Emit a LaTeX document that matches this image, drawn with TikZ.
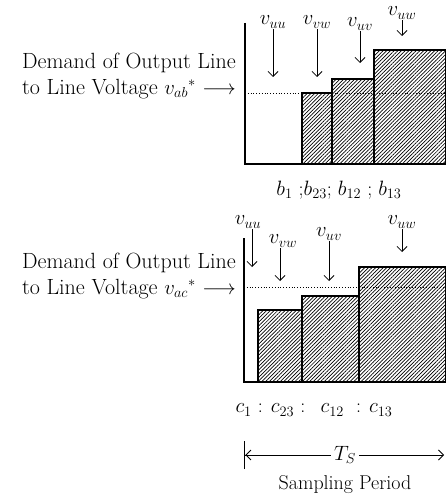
\documentclass[tikz,border=0pt]{standalone}
\usetikzlibrary{arrows.meta,patterns.meta}

\begin{document}
\begin{tikzpicture}[
  x=1pt, y=-1pt,
  >={Straight Barb[length=5pt,width=10pt]},
  demand/.style={font=\fontsize{22}{26}\selectfont, align=right, inner sep=0pt},
  vlab/.style={font=\fontsize{20}{24}\selectfont, inner sep=1pt},
  idx/.style={font=\fontsize{20}{24}\selectfont, inner sep=0pt},
  bar/.style={draw, line width=1.5pt,
              pattern={Lines[angle=45, distance=2.6pt, line width=0.7pt]}},
  axis/.style={line width=1.6pt},
  dem/.style={dotted, line width=0.8pt},
  pick/.style={->, line width=0.8pt}
]
\useasboundingbox (0,0) rectangle (445,500);

% ---------- panel atas: v_ab* ----------
\node[demand, anchor=east] (dab) at (236,76)
      {Demand of Output Line\\ to Line Voltage $v_{ab}{}^{*}$ $\longrightarrow$};

\draw[bar] (302,164) rectangle (332,93);
\draw[bar] (332,164) rectangle (374,79);
\draw[bar] (374,164) rectangle (446,50);
\draw[dem]  (245,93) -- (446,93);
\draw[axis] (245,23) -- (245,164) -- (446,164);

\node[vlab] (uu1) at (273,22) {$v_{uu}$};
\node[vlab] (vw1) at (317,22) {$v_{vw}$};
\node[vlab] (uv1) at (360,24) {$v_{uv}$};
\node[vlab] (uw1) at (402,13) {$v_{uw}$};
\coordinate (uu1e) at (273,77);
\coordinate (vw1e) at (317,77);
\coordinate (uv1e) at (360,63);
\coordinate (uw1e) at (402,36);
\draw[pick] (uu1.south -| uu1e) -- (uu1e);
\draw[pick] (vw1.south -| vw1e) -- (vw1e);
\draw[pick] (uv1.south -| uv1e) -- (uv1e);
\draw[pick] (uw1.south -| uw1e) -- (uw1e);

\node[idx] (bidx) at (339,190) {$b_1$ ;$b_{23}$; $b_{12}$ ; $b_{13}$};

% ---------- panel bawah: v_ac* ----------
\node[demand, anchor=east] (dac) at (236,276)
      {Demand of Output Line\\ to Line Voltage $v_{ac}{}^{*}$ $\longrightarrow$};

\draw[bar] (258,382) rectangle (302,310);
\draw[bar] (302,382) rectangle (359,296);
\draw[bar] (359,382) rectangle (446,267);
\draw[dem]  (244,287) -- (446,287);
\draw[axis] (244,238) -- (244,382) -- (446,382);

\node[vlab] (uu2) at (248,222) {$v_{uu}$};
\node[vlab] (vw2) at (283,241) {$v_{vw}$};
\node[vlab] (uv2) at (329,234) {$v_{uv}$};
\node[vlab] (uw2) at (402,222) {$v_{uw}$};
\coordinate (uu2e) at (252,267);
\coordinate (vw2e) at (280,281);
\coordinate (uv2e) at (329,281);
\coordinate (uw2e) at (402,252);
\draw[pick] (uu2.south -| uu2e) -- (uu2e);
\draw[pick] (vw2.south -| vw2e) -- (vw2e);
\draw[pick] (uv2.south -| uv2e) -- (uv2e);
\draw[pick] (uw2.south -| uw2e) -- (uw2e);

\node[idx] (cidx) at (314,410) {$c_1$ : $c_{23}$ :\ \ \,$c_{12}$\ \ : $c_{13}$};

% ---------- periode sampling ----------
\coordinate (tsl) at (244,455);
\coordinate (tsr) at (444,455);
\node[idx, inner sep=3pt] (ts) at (345,455) {$T_S$};
\draw[{Bar[width=28pt,line width=1.4pt]Straight Barb[length=5pt,width=10pt]}-, line width=0.8pt] (tsl) -- (ts);
\draw[pick] (ts) -- (tsr);
\node[idx] (sp) at (345,485) {Sampling Period};

\end{tikzpicture}
\end{document}
